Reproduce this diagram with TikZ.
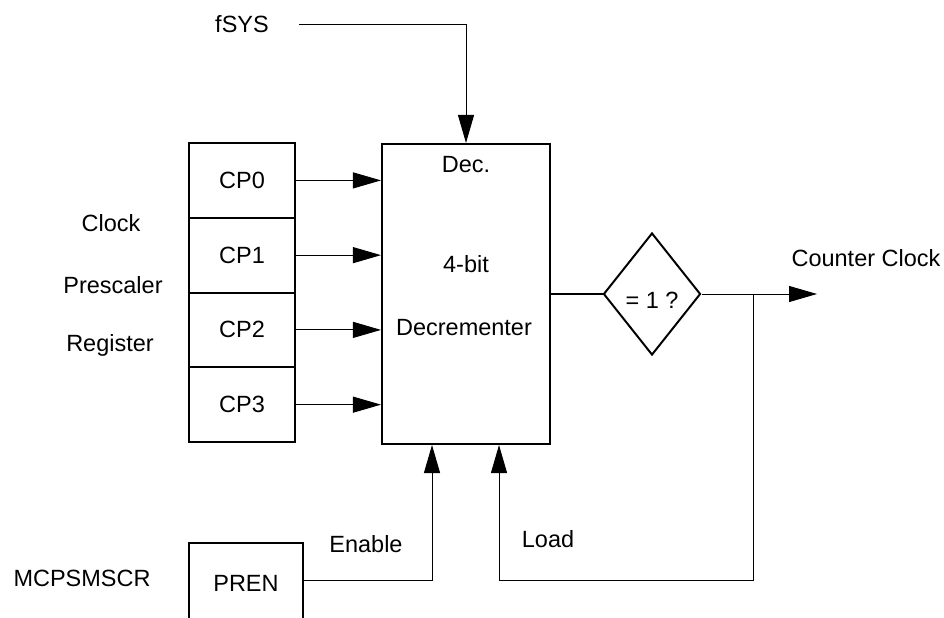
\documentclass[tikz,border=0pt]{standalone}
\usepackage{fontspec}
\setmainfont{Liberation Sans}
\usetikzlibrary{arrows.meta,shapes.geometric}

\begin{document}
\begin{tikzpicture}[x=0.025cm, y=-0.025cm,
      every node/.style={font=\fontsize{16.7}{20}\selectfont},
      box/.style={draw, line width=1.4pt, inner sep=0pt},
      cell/.style={box, minimum width=2.65cm, minimum height=1.87cm},
      arr/.style={line width=0.7pt, -{Triangle[length=0.7cm,width=0.4cm]}}]
    \useasboundingbox (0,0) rectangle (944,617);
    \clip (0,0) rectangle (944,617);
    \node[box, minimum width=4.2cm, minimum height=7.5cm] (dec) at (466,294) {};
    \node (dectop) at (466,165) {Dec.};
    \node (decmid) at (466,264) {4-bit};
    \node (decbot) at (464,328) {Decrementer};
    \foreach \i in {0,...,3}
      \node[cell] (cp\i) at (242,{180.4+74.75*\i}) {CP\i};
    \foreach \i in {0,...,3}
      \draw[arr] (cp\i.east) -- (cp\i.east -| dec.west);
    \node (clk) at (111,223) {Clock};
    \node (pre) at (113,285) {Prescaler};
    \node (reg) at (110,345) {Register};
    \node (fsys) at (242,24) {fSYS};
    \coordinate (fsysin) at (299,24);
    \draw[arr] (fsysin) -| (dec.north);
    \node[box, diamond, minimum width=2.425cm, minimum height=3.05cm] (cmp) at (652,294) {};
    \node (cmptxt) at (652,300) {= 1 ?};
    \draw[line width=1.4pt] (dec.east) -- (cmp.west);
    \coordinate (out) at (817,294);
    \coordinate (tap) at (753,294);
    \draw[arr] (cmp.east) -- (out);
    \node (cclk) at (866,258) {Counter Clock};
    \coordinate (ldcorner) at (499,580);
    \draw[arr] (tap) |- (ldcorner) -- (ldcorner |- dec.south);
    \node (load) at (548,539) {Load};
    \node[box, minimum width=2.85cm, minimum height=2cm] (pren) at (246,583) {PREN};
    \node (mcp) at (82,578) {MCPSMSCR};
    \coordinate (encorner) at (432,580);
    \draw[arr] (pren.east |- encorner) -- (encorner) -- (encorner |- dec.south);
    \node (en) at (366,544) {Enable};
  \end{tikzpicture}
\end{document}
